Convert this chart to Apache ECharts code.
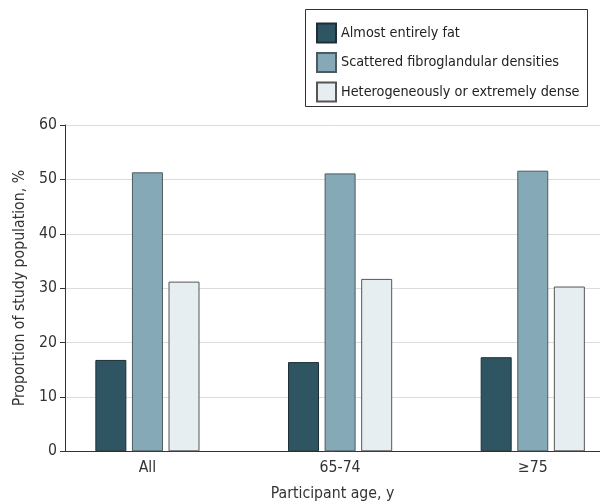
<!DOCTYPE html>
<html><head><meta charset="utf-8">
<script src="https://cdn.jsdelivr.net/npm/echarts@6/dist/echarts.min.js"></script>
<style>html,body{margin:0;padding:0;background:#fff}#c{width:600px;height:504px}</style>
</head><body><div id="c"></div>
<script>
const categories = ['All', '65-74', '≥75'];
const seriesNames = ['Almost entirely fat', 'Scattered fibroglandular densities', 'Heterogeneously or extremely dense'];
const fatValues = [16.8, 16.4, 17.3];
const scatteredValues = [51.3, 51.1, 51.6];
const denseValues = [31.2, 31.7, 30.3];
const yTicks = [0, 10, 20, 30, 40, 50, 60];

const FONT = '"DejaVu Sans Condensed", "DejaVu Sans", sans-serif';
const colors = ['#2f5563', '#86a9b7', '#e6eef1'];
const borders = ['#1e2e34', '#4d5a60', '#555'];
const values = [fatValues, scatteredValues, denseValues];

const chart = echarts.init(document.getElementById('c'), null, {renderer: 'canvas'});
chart.setOption({
  animation: false,
  textStyle: {fontFamily: FONT},
  grid: [
    {left: 65, right: 0, top: 125, bottom: 52.7, outerBoundsMode: 'none', containLabel: false},
    {left: 51.1, width: 578, top: 125, bottom: 52.7, outerBoundsMode: 'none', containLabel: false}
  ],
  graphic: [{
    type: 'rect', left: 305, top: 9, z: 0,
    shape: {width: 282, height: 97},
    style: {fill: '#fff', stroke: '#333', lineWidth: 1}
  }],
  legend: {
    orient: 'vertical', left: 311, top: 17.5, itemWidth: 19, itemHeight: 19, itemGap: 8.5,
    padding: 5, z: 5, icon: 'rect',
    textStyle: {fontSize: 14.3, color: '#222', fontFamily: FONT, padding: [0, 0, 0, 0]},
    data: seriesNames
  },
  xAxis: [
    {type: 'value', gridIndex: 0, min: 0, max: 1, axisLine: {show: true, lineStyle: {color: '#333', width: 1}},
     axisTick: {show: false}, axisLabel: {show: false}, splitLine: {show: false},
     name: 'Participant age, y', nameLocation: 'middle', nameGap: 35,
     nameTextStyle: {fontSize: 15.7, color: '#333', fontFamily: FONT}},
    {type: 'category', gridIndex: 1, data: categories, axisLine: {show: false}, axisTick: {show: false},
     axisLabel: {fontSize: 15.7, color: '#333', margin: 9, fontFamily: FONT}}
  ],
  yAxis: [
    {type: 'value', gridIndex: 0, min: 0, max: 60, interval: 10,
     axisLine: {show: true, lineStyle: {color: '#333', width: 1}},
     axisTick: {show: true, length: 5, lineStyle: {color: '#333'}},
     axisLabel: {fontSize: 15.7, color: '#333', margin: 8, fontFamily: FONT,
       formatter: v => yTicks.includes(v) ? String(v) : ''},
     splitLine: {lineStyle: {color: '#dcdcdc', width: 1}},
     name: 'Proportion of study population, %', nameLocation: 'middle', nameGap: 37,
     nameTextStyle: {fontSize: 15.7, color: '#333', fontFamily: FONT}},
    {type: 'value', gridIndex: 1, min: 0, max: 60, show: false}
  ],
  series: seriesNames.map((n, i) => ({
    name: n, type: 'bar', xAxisIndex: 1, yAxisIndex: 1, data: values[i],
    barWidth: 31, barGap: '18%', z: 3,
    itemStyle: {color: colors[i], borderColor: borders[i], borderWidth: 1}
  }))
});
</script></body></html>
